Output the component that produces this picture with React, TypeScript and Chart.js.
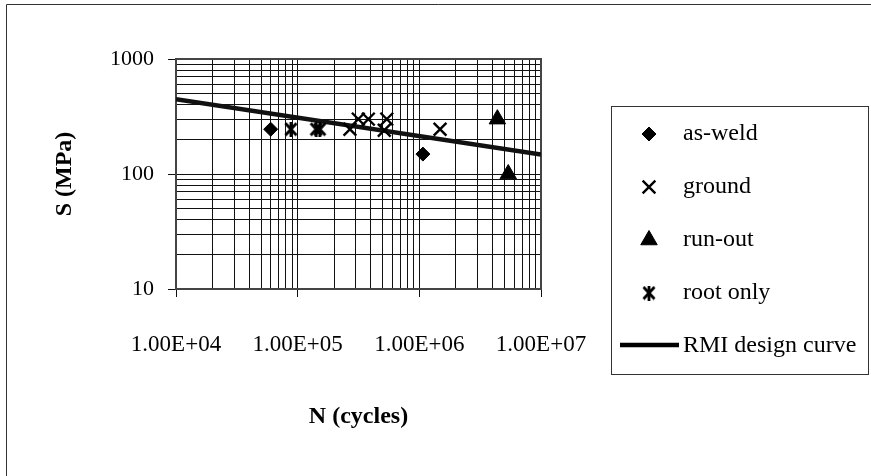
import React, { useEffect, useRef } from 'react';
import { Chart, registerables } from 'chart.js';
import { drawPoint } from 'chart.js/helpers';

Chart.register(...registerables);

// ---- data ----
const asWeldN = [6.0e4, 1.07e6];
const asWeldS = [245, 149];
const groundN = [2.69e5, 3.15e5, 3.81e5, 5.4e5, 5.15e5, 1.48e6];
const groundS = [245, 300, 300, 300, 240, 245];
const runOutN = [4.38e6, 5.38e6];
const runOutS = [300, 100];
const rootOnlyN = [8.8e4, 1.42e5, 1.52e5];
const rootOnlyS = [245, 245, 245];
const rmiN = [1e4, 1e7];
const rmiS = [447, 148];

const xTickValues = [1e4, 1e5, 1e6, 1e7];
const xTickLabels = ['1.00E+04', '1.00E+05', '1.00E+06', '1.00E+07'];
const yTickValues = [10, 100, 1000];
const yTickLabels = ['10', '100', '1000'];
const seriesNames = ['as-weld', 'ground', 'run-out', 'root only', 'RMI design curve'];
const xTitle = 'N (cycles)';
const yTitle = 'S (MPa)';

const FONT = '"Liberation Serif", "Times New Roman", serif';

function toPoints(xs: number[], ys: number[]) {
  return xs.map((x, i) => ({ x, y: ys[i] }));
}

function logTicks(majors: number[]) {
  const out: { value: number; major: boolean }[] = [];
  for (let i = 0; i < majors.length; i++) {
    out.push({ value: majors[i], major: true });
    if (i < majors.length - 1) {
      for (let k = 2; k <= 9; k++) out.push({ value: majors[i] * k, major: false });
    }
  }
  return out;
}

function makeAsterisk(w: number, h: number, lw: number) {
  const c = document.createElement('canvas');
  c.width = w;
  c.height = h;
  const g = c.getContext('2d')!;
  g.strokeStyle = '#000';
  g.lineWidth = lw;
  const pad = 1.5;
  g.beginPath();
  g.moveTo(pad, pad);
  g.lineTo(w - pad, h - pad);
  g.moveTo(w - pad, pad);
  g.lineTo(pad, h - pad);
  g.moveTo(w / 2, 0);
  g.lineTo(w / 2, h);
  g.stroke();
  return c;
}

export default function App() {
  const ref = useRef<HTMLCanvasElement>(null);

  useEffect(() => {
    const canvas = ref.current!;
    const asterisk = makeAsterisk(14, 15, 2.8);

    const isMajorX = (v: number) => xTickValues.includes(v);
    const isMajorY = (v: number) => yTickValues.includes(v);

    const framePlugin = {
      id: 'framePlugin',
      beforeDraw(chart: any) {
        const ctx = chart.ctx;
        ctx.save();
        ctx.fillStyle = '#fff';
        ctx.fillRect(0, 0, chart.width, chart.height);
        ctx.restore();
      },
      beforeDatasetsDraw(chart: any) {
        const { ctx, chartArea } = chart;
        ctx.save();
        ctx.strokeStyle = '#444';
        ctx.lineWidth = 2;
        ctx.strokeRect(chartArea.left, chartArea.top, chartArea.right - chartArea.left, chartArea.bottom - chartArea.top);
        ctx.restore();
      },
      afterDraw(chart: any) {
        const ctx = chart.ctx;
        ctx.save();
        // outer border (top & left)
        ctx.strokeStyle = '#333';
        ctx.lineWidth = 1;
        ctx.beginPath();
        ctx.moveTo(6.5, 476);
        ctx.lineTo(6.5, 4.5);
        ctx.lineTo(871, 4.5);
        ctx.stroke();

        // legend box
        const lx = 611.5, ly = 106.5, lw = 257, lh = 268;
        ctx.fillStyle = '#fff';
        ctx.fillRect(lx, ly, lw, lh);
        ctx.strokeStyle = '#333';
        ctx.lineWidth = 1;
        ctx.strokeRect(lx, ly, lw, lh);

        const ds = chart.data.datasets;
        const mx = 649;
        const tx = 683;
        ctx.font = `24px ${FONT}`;
        ctx.textBaseline = 'middle';
        ctx.textAlign = 'left';
        for (let i = 0; i < seriesNames.length; i++) {
          const y = 134 + 53 * i;
          const d = ds[i];
          ctx.fillStyle = '#000';
          ctx.strokeStyle = '#000';
          if (i < 4) {
            ctx.lineWidth = d.borderWidth;
            drawPoint(ctx, { pointStyle: d.pointStyle, radius: d.pointRadius, borderWidth: d.borderWidth, rotation: 0 } as any, mx, y);
          } else {
            ctx.lineWidth = 4.5;
            ctx.beginPath();
            ctx.moveTo(620, y - 1);
            ctx.lineTo(679, y - 1);
            ctx.stroke();
          }
          ctx.fillStyle = '#000';
          ctx.fillText(seriesNames[i], tx, y);
        }
        ctx.restore();
      },
    };

    const chart = new Chart(canvas, {
      type: 'scatter',
      data: {
        datasets: [
          {
            label: seriesNames[0],
            data: toPoints(asWeldN, asWeldS),
            pointStyle: 'rectRot',
            pointRadius: 7,
            borderWidth: 1,
            backgroundColor: '#000',
            borderColor: '#000',
          },
          {
            label: seriesNames[1],
            data: toPoints(groundN, groundS),
            pointStyle: 'crossRot',
            pointRadius: 9,
            borderWidth: 2.4,
            backgroundColor: '#000',
            borderColor: '#000',
          },
          {
            label: seriesNames[2],
            data: toPoints(runOutN, runOutS),
            pointStyle: 'triangle',
            pointRadius: 9.5,
            borderWidth: 1,
            backgroundColor: '#000',
            borderColor: '#000',
          },
          {
            label: seriesNames[3],
            data: toPoints(rootOnlyN, rootOnlyS),
            pointStyle: asterisk as any,
            pointRadius: 7,
            borderWidth: 2.8,
            backgroundColor: '#000',
            borderColor: '#000',
          },
          {
            label: seriesNames[4],
            data: toPoints(rmiN, rmiS),
            showLine: true,
            pointRadius: 0,
            borderWidth: 4.5,
            borderColor: '#111',
            backgroundColor: '#111',
          } as any,
        ],
      },
      options: {
        animation: false,
        responsive: false,
        devicePixelRatio: 1,
        layout: { padding: { left: 41, top: 59, right: 330, bottom: 37 } },
        plugins: {
          legend: { display: false },
          tooltip: { enabled: false },
        },
        scales: {
          x: {
            type: 'logarithmic',
            position: 'bottom',
            min: 1e4,
            max: 1e7,
            afterBuildTicks: (axis: any) => {
              axis.ticks = logTicks(xTickValues);
            },
            afterFit: (axis: any) => {
              axis.height = 150;
            },
            border: { display: false },
            grid: {
              color: '#111',
              lineWidth: 1,
              drawTicks: true,
              tickLength: 8,
              tickColor: (c: any) => (c.tick && isMajorX(c.tick.value) ? '#111' : 'rgba(0,0,0,0)'),
            },
            ticks: {
              autoSkip: false,
              maxRotation: 0,
              minRotation: 0,
              padding: 34,
              color: '#000',
              font: { family: FONT, size: 23 },
              callback: (v: any) => {
                const i = xTickValues.indexOf(Number(v));
                return i >= 0 ? xTickLabels[i] : '';
              },
            },
            title: {
              display: true,
              text: xTitle,
              color: '#000',
              font: { family: FONT, size: 24, weight: 'bold' },
              padding: { top: 0, bottom: 8 },
            },
          },
          y: {
            type: 'logarithmic',
            position: 'left',
            min: 10,
            max: 1000,
            afterBuildTicks: (axis: any) => {
              axis.ticks = logTicks(yTickValues);
            },
            afterFit: (axis: any) => {
              axis.width = 135;
            },
            border: { display: false },
            grid: {
              color: '#111',
              lineWidth: 1,
              drawTicks: true,
              tickLength: 8,
              tickColor: (c: any) => (c.tick && isMajorY(c.tick.value) ? '#111' : 'rgba(0,0,0,0)'),
            },
            ticks: {
              autoSkip: false,
              padding: 14,
              color: '#000',
              font: { family: FONT, size: 22 },
              callback: (v: any) => {
                const i = yTickValues.indexOf(Number(v));
                return i >= 0 ? yTickLabels[i] : '';
              },
            },
            title: {
              display: true,
              text: yTitle,
              color: '#000',
              font: { family: FONT, size: 24, weight: 'bold' },
              padding: { top: 9, bottom: 0 },
            },
          },
        },
      },
      plugins: [framePlugin],
    } as any);

    return () => chart.destroy();
  }, []);

  return (
    <div style={{ position: 'absolute', left: 0, top: 0, width: 871, height: 476, background: '#fff' }}>
      <canvas ref={ref} width={871} height={476} style={{ display: 'block', width: 871, height: 476 }} />
    </div>
  );
}
